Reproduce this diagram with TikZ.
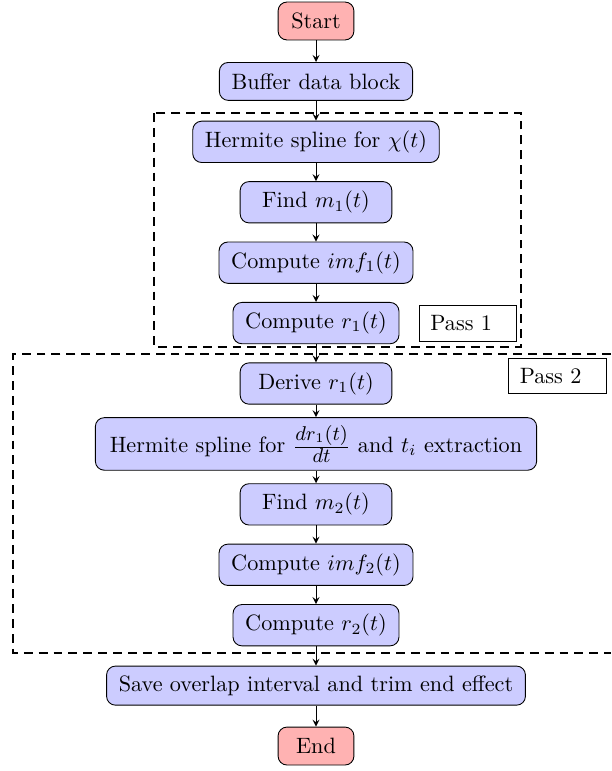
\documentclass[tikz,border=0pt]{standalone}
\usepackage{tikz}
\tikzset{
	startstop/.style={rectangle, rounded corners, draw=black, fill=red!30, minimum width=1.2cm, minimum height=0.6cm, inner xsep=5.5pt, inner ysep=4.3pt},
	process/.style={rectangle, rounded corners, draw=black, fill=blue!20, minimum width=2.4cm, minimum height=0.6cm, inner xsep=5.5pt, inner ysep=4.3pt},
	passlabel/.style={rectangle, draw=black, fill=white, text width=1.19cm, inner xsep=5pt, inner ysep=4.5pt},
	passline/.style={line width=1pt, dash pattern=on 4pt off 2.7pt},
	flow/.style={->, >=stealth}
}
\newcommand{\smallfrac}[2]{\frac{\mbox{\small$#1$}}{\mbox{\small$#2$}}}

\begin{document}
\begin{tikzpicture}
			\useasboundingbox (-5.0, 0.332) rectangle (4.668, -11.867);
			%%%%% PASSES %%%%%
			\draw[passline] (-2.563, -1.456) rectangle (3.244, -5.158);
			\draw[passline] (4.668, -5.269) -- (-4.794, -5.269) -- (-4.794, -10.0) -- (4.668, -10.0);
			
			%%%%% NODES %%%%%
			\node[startstop] (start) at (0, 0) {Start};
			\node[process] (buffer) at (0, -0.956) {Buffer data block};
			\node[process] (herm1) at (0, -1.912) {Hermite spline for $\chi(t)$};
			\node[process] (findm1) at (0, -2.868) {Find $m_1(t)$};
			\node[process] (imf1) at (0, -3.824) {Compute $imf_1(t)$};
			\node[process] (cmpr1) at (0, -4.780) {Compute $r_1(t)$};
			\node[process] (derr1) at (0, -5.736) {Derive $r_1(t)$};
			\node[process, inner xsep=6.5pt, inner ysep=3.6pt] (herm2) at (0, -6.692) {Hermite spline for $\smallfrac{dr_1(t)}{dt}$ and $t_i$ extraction};
			\node[process] (findm2) at (0, -7.648) {Find $m_2(t)$};
			\node[process] (imf2) at (0, -8.604) {Compute $imf_2(t)$};
			\node[process] (cmpr2) at (0, -9.560) {Compute $r_2(t)$};
			\node[process] (save) at (0, -10.516) {Save overlap interval and trim end effect};
			\node[startstop] (stop) at (0, -11.472) {End};
			
			\node[passlabel] (pass1) at (2.405, -4.786) {Pass 1};
			\node[passlabel] (pass2) at (3.82, -5.617) {Pass 2};
			
			%%%%% ARROWS %%%%%
			\draw[flow] (start) -- (buffer);
			\draw[flow] (buffer) -- (herm1);
			\draw[flow] (herm1) -- (findm1);
			\draw[flow] (findm1) -- (imf1);
			\draw[flow] (imf1) -- (cmpr1);
			\draw[flow] (cmpr1) -- (derr1);
			\draw[flow] (derr1) -- (herm2);
			\draw[flow] (herm2) -- (findm2);
			\draw[flow] (findm2) -- (imf2);
			\draw[flow] (imf2) -- (cmpr2);
			\draw[flow] (cmpr2) -- (save);
			\draw[flow] (save) -- (stop);
		\end{tikzpicture}
\end{document}
